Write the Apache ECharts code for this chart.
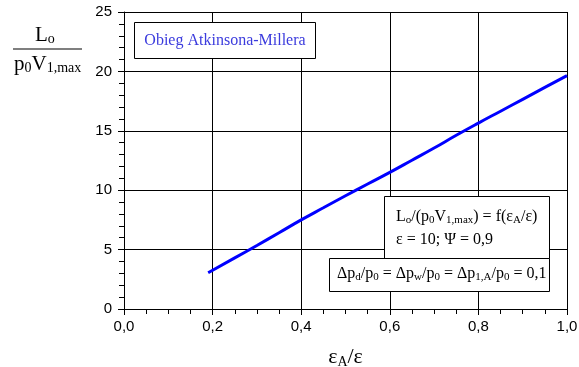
<!DOCTYPE html>
<html>
<head>
    <meta charset="utf-8">
    <script src="https://cdn.jsdelivr.net/npm/echarts@6/dist/echarts.min.js"></script>
    <style>
    html, body { margin: 0; padding: 0; background: #fff; }
    #main { width: 579px; height: 367px; }
    </style>
    <title>Obieg Atkinsona-Millera</title>
</head>
<body>
    <div id="main"></div>
    <script type="text/javascript">

        // wartosci
        var ratio = [0.19, 0.25, 0.30, 0.35, 0.40, 0.45, 0.50, 0.55, 0.60, 0.65, 0.70, 0.75, 0.80, 0.85, 0.90, 0.95, 1.00];
        var work  = [3.05, 4.30, 5.35, 6.42, 7.50, 8.52, 9.53, 10.52, 11.50, 12.52, 13.55, 14.62, 15.65, 16.65, 17.65, 18.65, 19.65];
        var xTicks = [0, 0.2, 0.4, 0.6, 0.8, 1.0];
        var yTicks = [0, 5, 10, 15, 20, 25];

        var serif = '"Liberation Serif", "Times New Roman", serif';
        var sans = '"Liberation Sans", Arial, sans-serif';

        var data = ratio.map(function (x, i) { return [x, work[i]]; });

        var sub = { fontFamily: serif, fontSize: 11, lineHeight: 12, padding: [7, 0, 0, 0], fill: '#000' };
        var txt = { fontFamily: serif, fontSize: 16, lineHeight: 19, fill: '#000' };

        var myChart = echarts.init(document.getElementById('main'));

        var option = {
            animation: false,
            grid: { left: 124, right: 12, top: 12, bottom: 58, outerBoundsMode: 'none', containLabel: false },
            xAxis: {
                type: 'value',
                min: xTicks[0],
                max: xTicks[xTicks.length - 1],
                interval: 0.2,
                name: '{a|ε}{s|A}{a|/ε}',
                nameLocation: 'middle',
                nameGap: 36,
                nameTextStyle: {
                    rich: {
                        a: { fontFamily: serif, fontSize: 22, lineHeight: 24, color: '#000' },
                        s: { fontFamily: serif, fontSize: 14, lineHeight: 14, padding: [10, 0, 0, 0], color: '#000' }
                    }
                },
                axisLine: { lineStyle: { color: '#000', width: 1 } },
                axisTick: { show: true, length: 6, lineStyle: { color: '#000', width: 1 } },
                minorTick: { show: true, splitNumber: 4, length: 5, lineStyle: { color: '#000', width: 1 } },
                axisLabel: {
                    fontFamily: sans, fontSize: 15, color: '#000', margin: 10,
                    formatter: function (v) { return v.toFixed(1).replace('.', ','); }
                },
                splitLine: { show: true, lineStyle: { color: '#000', width: 1 } }
            },
            yAxis: {
                type: 'value',
                min: yTicks[0],
                max: yTicks[yTicks.length - 1],
                interval: 5,
                axisLine: { show: true, lineStyle: { color: '#000', width: 1 } },
                axisTick: { show: true, length: 6, lineStyle: { color: '#000', width: 1 } },
                minorTick: { show: true, splitNumber: 5, length: 5, lineStyle: { color: '#000', width: 1 } },
                axisLabel: { fontFamily: sans, fontSize: 15, color: '#000', margin: 12 },
                splitLine: { show: true, lineStyle: { color: '#000', width: 1 } }
            },
            series: [{
                type: 'line',
                data: data,
                showSymbol: false,
                smooth: true,
                lineStyle: { color: '#0000ff', width: 3 },
                z: 3
            }],
            graphic: [
                // tytul osi y w postaci ulamka
                { type: 'text', left: 35, top: 24, style: { text: '{a|L}{s|o}', rich: { a: { fontFamily: serif, fontSize: 21, lineHeight: 22, fill: '#000' }, s: { fontFamily: serif, fontSize: 14, lineHeight: 14, padding: [8, 0, 0, 0], fill: '#000' } } } },
                { type: 'line', shape: { x1: 13, y1: 49, x2: 82, y2: 49 }, style: { stroke: '#000', lineWidth: 1.2 } },
                { type: 'text', left: 14, top: 53, style: { text: '{a|p}{s|0}{a|V}{s|1,max}', rich: { a: { fontFamily: serif, fontSize: 21, lineHeight: 22, fill: '#000' }, s: { fontFamily: serif, fontSize: 14, lineHeight: 14, padding: [8, 0, 0, 0], fill: '#000' } } } },

                // legenda
                { type: 'rect', z: 10, shape: { x: 134.5, y: 22.5, width: 181, height: 36 }, style: { fill: '#fff', stroke: '#000', lineWidth: 1 } },
                { type: 'text', z: 11, x: 225, y: 41, style: { text: 'Obieg Atkinsona-Millera', fontFamily: serif, fontSize: 16, fill: '#3b3bdd', align: 'center', verticalAlign: 'middle' } },

                // opis parametrow
                { type: 'rect', z: 10, shape: { x: 384.5, y: 196.5, width: 165, height: 62 }, style: { fill: '#fff', stroke: '#000', lineWidth: 1 } },
                { type: 'text', z: 11, left: 396, top: 208, style: { text: '{t|L}{s|o}{t|/(p}{s|0}{t|V}{s|1,max}{t|) = f(ε}{s|A}{t|/ε)}', rich: { t: txt, s: sub } } },
                { type: 'text', z: 11, left: 396, top: 232, style: { text: 'ε = 10; Ψ = 0,9', fontFamily: serif, fontSize: 16, fill: '#000' } },

                { type: 'rect', z: 10, shape: { x: 329.5, y: 258.5, width: 220, height: 33 }, style: { fill: '#fff', stroke: '#000', lineWidth: 1 } },
                { type: 'text', z: 11, left: 337, top: 265, style: { text: '{t|Δp}{s|d}{t|/p}{s|0}{t| = Δp}{s|w}{t|/p}{s|0}{t| = Δp}{s|1,A}{t|/p}{s|0}{t| = 0,1}', rich: { t: txt, s: sub } } }
            ]
        };

        myChart.setOption(option);

    </script>
</body>
</html>
